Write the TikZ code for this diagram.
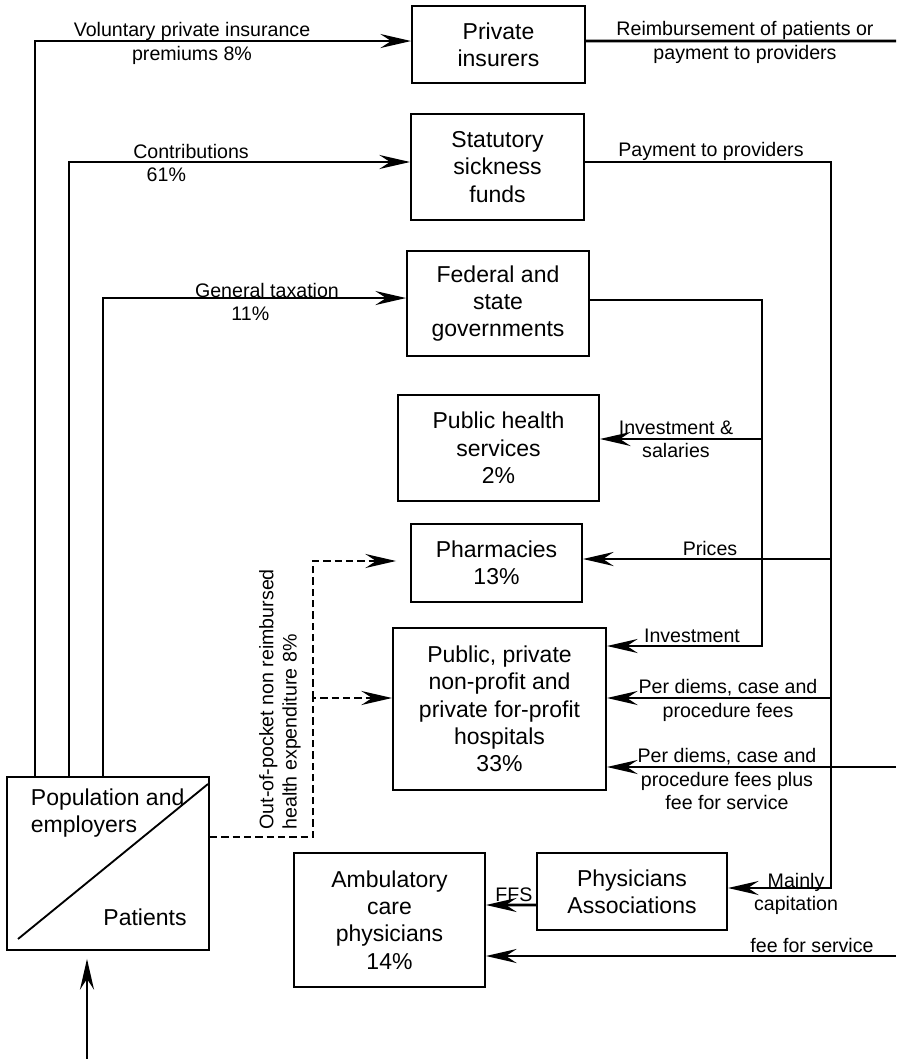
\documentclass[tikz,border=0pt]{standalone}
\usepackage{fontspec}
\setmainfont{Liberation Sans}
\usetikzlibrary{arrows.meta}

\tikzset{every picture/.style={line width=0.75pt}}
\tikzset{
  agent/.style={draw, line width=1.4pt, align=center, inner sep=0pt, font=\fontsize{17.25}{20.5}\selectfont},
  flowlbl/.style={align=center, inner sep=0pt, font=\fontsize{14.7}{17.5}\selectfont},
  money/.style={line width=2pt},
  paid/.style={money, -{Stealth[length=23pt,width=10.5pt,inset=8pt]}},
  cash/.style={paid, dash pattern=on 5.5pt off 3pt},
}

\begin{document}
\begin{tikzpicture}[x=0.75pt,y=0.75pt,yscale=-1,xscale=1]
    \useasboundingbox (0,0) rectangle (896,1059);

    %Shape: Rectangle [financing agents]
    \node[agent, minimum width=129.75pt, minimum height=57.75pt] (ins) at (498.5,44.5) {Private\\insurers};
    \node[agent, minimum width=129.75pt, minimum height=79.5pt] (sick) at (497.5,167) {Statutory\\sickness\\funds};
    \node[agent, minimum width=136.5pt, minimum height=78.75pt] (gov) at (498,303.5) {Federal and\\state\\governments};

    %Shape: Rectangle [providers]
    \node[agent, minimum width=150.75pt, minimum height=79.5pt] (phs) at (498.5,448) {Public health\\services\\2\%};
    \node[agent, minimum width=128.25pt, minimum height=58.5pt] (pharm) at (496.5,563) {Pharmacies\\13\%};
    \node[agent, minimum width=159.75pt, minimum height=121.5pt] (hosp) at (499.5,709) {Public, private\\non-profit and\\private for-profit\\hospitals\\33\%};
    \node[agent, minimum width=142.5pt, minimum height=57.75pt] (pa) at (632,891.5) {Physicians\\Associations};
    \node[agent, minimum width=143.25pt, minimum height=100.5pt] (amb) at (389.5,920) {Ambulatory\\care\\physicians\\14\%};

    %Shape: Rectangle [population / patients]
    \node[agent, minimum width=151.5pt, minimum height=129.75pt] (pop) at (108,863.5) {};
    \draw[line width=1.4pt] (208,784) -- (18,939);
    \node[agent, draw=none, align=left, anchor=north west] (popTop) at (30,788) {Population and\\employers};
    \node[agent, draw=none, anchor=base] (patients) at (145,925) {Patients};

    %Straight Lines [contributions]
    \draw[paid] ([xshift=21.75pt]pop.north west) |- ([yshift=-2.6pt]ins.west);
    \draw[paid] ([xshift=47.25pt]pop.north west) |- ([yshift=-3.75pt]sick.west);
    \draw[paid] ([xshift=72.75pt]pop.north west) |- ([yshift=-4.1pt]gov.west);
    \coordinate (inflow) at (87,1059);
    \draw[paid, shorten >=6pt] (inflow) -- (inflow |- pop.south);

    %Straight Lines [payments]
    \coordinate (edgeA) at (896,41);
    \draw[money] ([yshift=-2.6pt]ins.east) -- (edgeA);
    \coordinate (fundJ) at (831,888);
    \draw[paid] ([yshift=-3.75pt]sick.east) -| (fundJ) -- (fundJ -| pa.east);
    \coordinate (govJ) at (762,646);
    \draw[paid] ([yshift=-2.6pt]gov.east) -| (govJ) -- (govJ -| hosp.east);
    \coordinate (salJ) at (762,439);
    \draw[paid] (salJ) -- (salJ -| phs.east);
    \coordinate (priceJ) at (831,559);
    \draw[paid] (priceJ) -- (priceJ -| pharm.east);
    \coordinate (diemJ) at (831,698);
    \draw[paid] (diemJ) -- (diemJ -| hosp.east);
    \coordinate (edgeB) at (896,767);
    \draw[paid] (edgeB) -- (edgeB -| hosp.east);
    \coordinate (edgeC) at (896,956);
    \draw[paid] (edgeC) -- (edgeC -| amb.east);
    \draw[paid] ([yshift=10.1pt]pa.west) -- ([yshift=-11.25pt]amb.east);

    %Dashed Lines [out-of-pocket]
    \coordinate (oopJ) at (313,698);
    \draw[cash] ([yshift=-19.9pt]pop.east) -| (oopJ) -- (oopJ -| hosp.west);
    \draw[cash, shorten >=10.5pt] (oopJ) |- ([yshift=-1.5pt]pharm.west);

    % Text Node
    \node[flowlbl] (volLbl) at (192,43.5) {Voluntary private insurance\\premiums 8\%};
    \node[flowlbl] (contLbl) at (191,163) {Contributions\\61\%\hspace*{37pt}};
    \node[flowlbl] (taxLbl) at (267,302) {General taxation\\11\%\hspace*{25pt}};
    \node[flowlbl] (reimbLbl) at (745,42.5) {Reimbursement of patients or\\payment to providers};
    \node[flowlbl, anchor=base] (payLbl) at (711,157) {Payment to providers};
    \node[flowlbl] (salLbl) at (676,439.5) {Investment \&\\salaries};
    \node[flowlbl, anchor=base] (priceLbl) at (710,555) {Prices};
    \node[flowlbl, anchor=base] (invLbl) at (692,642) {Investment};
    \node[flowlbl] (diemLbl) at (728,700.5) {Per diems, case and\\procedure fees};
    \node[flowlbl] (diemFfsLbl) at (727,779) {Per diems, case and\\procedure fees plus\\fee for service};
    \node[flowlbl] (capLbl) at (796,894) {Mainly\\capitation};
    \node[flowlbl, anchor=base] (ffsLbl) at (514,901) {FFS};
    \node[flowlbl, anchor=base] (feeLbl) at (812,952) {fee for service};
    \node[flowlbl, align=left, rotate=90, anchor=west] (oopLbl) at (280,830) {Out-of-pocket non reimbursed\\health expenditure 8\%};
\end{tikzpicture}
\end{document}
